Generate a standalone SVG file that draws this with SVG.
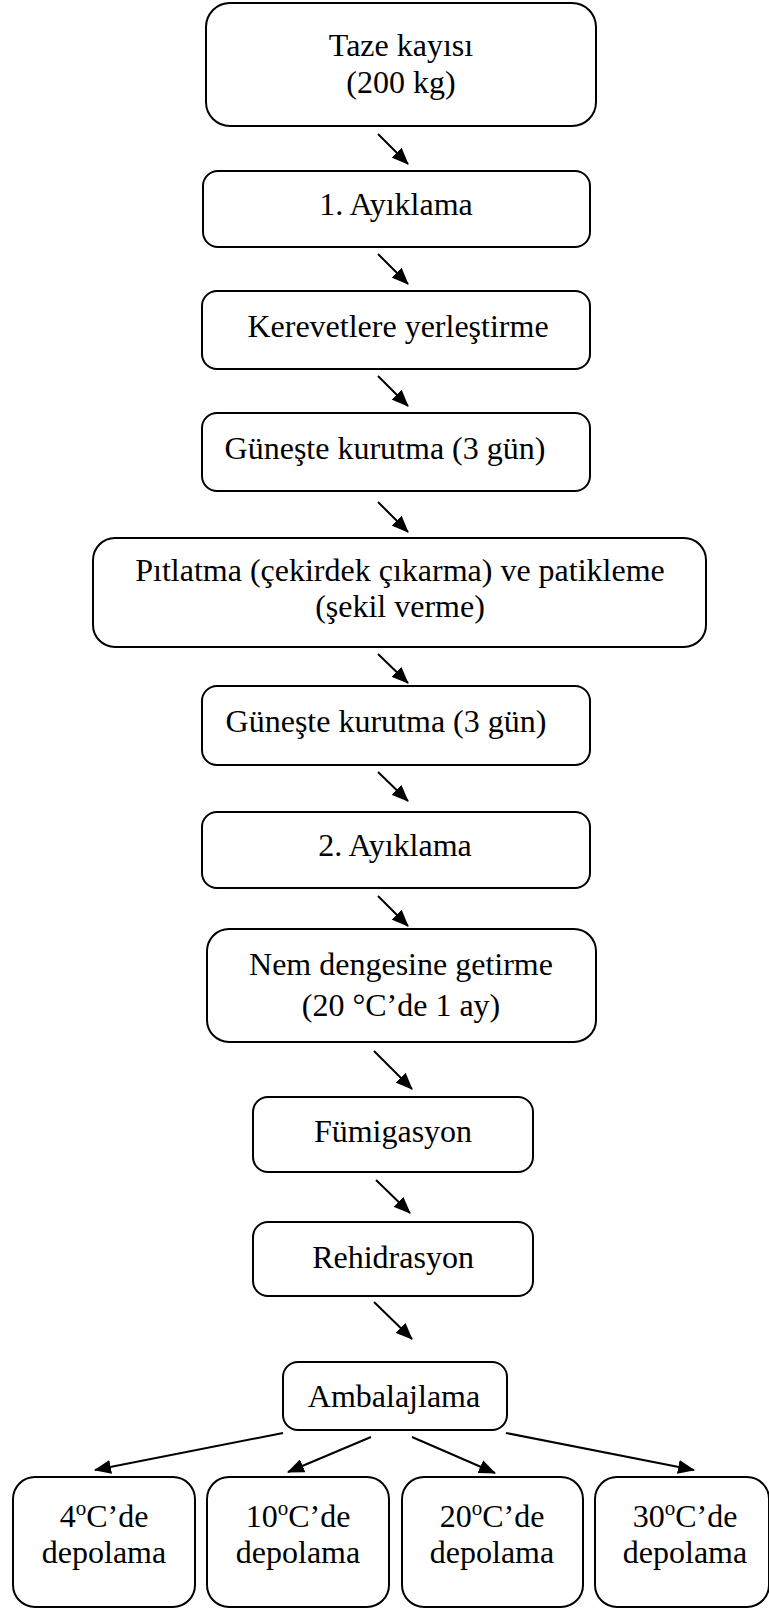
<svg xmlns="http://www.w3.org/2000/svg" width="769" height="1609" viewBox="0 0 769 1609">
<defs>
<style>
.box{fill:#fff;stroke:#000;stroke-width:2}
.t{font-family:"Liberation Serif","Times New Roman",serif;font-size:32px;fill:#000;text-anchor:middle}
.c{stroke:#000;stroke-width:2;fill:none;marker-end:url(#ah)}
</style>
<marker id="ah" markerUnits="userSpaceOnUse" markerWidth="18" markerHeight="14" refX="16" refY="7" orient="auto"><path d="M0,0 L17,7 L0,14 z" fill="#000"/></marker>
</defs>
<rect width="769" height="1609" fill="#fff"/>
<g id="connectors">
<line class="c" x1="378" y1="134" x2="408" y2="164"/>
<line class="c" x1="378" y1="254" x2="408" y2="284"/>
<line class="c" x1="378" y1="376" x2="408" y2="406"/>
<line class="c" x1="378" y1="502" x2="408" y2="532"/>
<line class="c" x1="378" y1="654" x2="408" y2="683"/>
<line class="c" x1="378" y1="772" x2="408" y2="801"/>
<line class="c" x1="378" y1="896" x2="408" y2="926"/>
<line class="c" x1="374" y1="1051" x2="412" y2="1089"/>
<line class="c" x1="376" y1="1180" x2="410" y2="1213"/>
<line class="c" x1="374" y1="1302" x2="412" y2="1339"/>
<line class="c" x1="283" y1="1433" x2="95" y2="1470"/>
<line class="c" x1="371" y1="1437" x2="288" y2="1472"/>
<line class="c" x1="412" y1="1437" x2="495" y2="1473"/>
<line class="c" x1="506" y1="1433" x2="694" y2="1470"/>
</g>
<g id="n1"><rect class="box" x="206" y="3" width="390" height="123" rx="24"/><text class="t" x="401" y="56">Taze kayısı</text><text class="t" x="401" y="93">(200 kg)</text></g>
<g id="n2"><rect class="box" x="203" y="171" width="387" height="76" rx="15"/><text class="t" x="396" y="215">1. Ayıklama</text></g>
<g id="n3"><rect class="box" x="202" y="291" width="388" height="78" rx="15"/><text class="t" x="398" y="337">Kerevetlere yerleştirme</text></g>
<g id="n4"><rect class="box" x="202" y="413" width="388" height="78" rx="15"/><text class="t" x="385" y="459">Güneşte kurutma (3 gün)</text></g>
<g id="n5"><rect class="box" x="93" y="538" width="613" height="109" rx="22"/><text class="t" x="400" y="581">Pıtlatma (çekirdek çıkarma) ve patikleme</text><text class="t" x="400" y="617">(şekil verme)</text></g>
<g id="n6"><rect class="box" x="202" y="686" width="388" height="79" rx="15"/><text class="t" x="386" y="732">Güneşte kurutma (3 gün)</text></g>
<g id="n7"><rect class="box" x="202" y="812" width="388" height="76" rx="15"/><text class="t" x="395" y="856">2. Ayıklama</text></g>
<g id="n8"><rect class="box" x="207" y="929" width="389" height="113" rx="22"/><text class="t" x="401" y="975">Nem dengesine getirme</text><text class="t" x="401" y="1016">(20 °C’de 1 ay)</text></g>
<g id="n9"><rect class="box" x="253" y="1097" width="280" height="75" rx="15"/><text class="t" x="393" y="1142">Fümigasyon</text></g>
<g id="n10"><rect class="box" x="253" y="1222" width="280" height="74" rx="15"/><text class="t" x="393" y="1268">Rehidrasyon</text></g>
<g id="n11"><rect class="box" x="283" y="1362" width="224" height="68" rx="15"/><text class="t" x="394" y="1407">Ambalajlama</text></g>
<g id="b1"><rect class="box" x="13" y="1477" width="182" height="130" rx="22"/><text class="t" x="104" y="1527">4<tspan dy="-12" font-size="21">o</tspan><tspan dy="12">C’de</tspan></text><text class="t" x="104" y="1563">depolama</text></g>
<g id="b2"><rect class="box" x="207" y="1477" width="182" height="130" rx="22"/><text class="t" x="298" y="1527">10<tspan dy="-12" font-size="21">o</tspan><tspan dy="12">C’de</tspan></text><text class="t" x="298" y="1563">depolama</text></g>
<g id="b3"><rect class="box" x="402" y="1477" width="181" height="130" rx="22"/><text class="t" x="492" y="1527">20<tspan dy="-12" font-size="21">o</tspan><tspan dy="12">C’de</tspan></text><text class="t" x="492" y="1563">depolama</text></g>
<g id="b4"><rect class="box" x="595" y="1477" width="174" height="130" rx="22"/><text class="t" x="685" y="1527">30<tspan dy="-12" font-size="21">o</tspan><tspan dy="12">C’de</tspan></text><text class="t" x="685" y="1563">depolama</text></g>
</svg>
